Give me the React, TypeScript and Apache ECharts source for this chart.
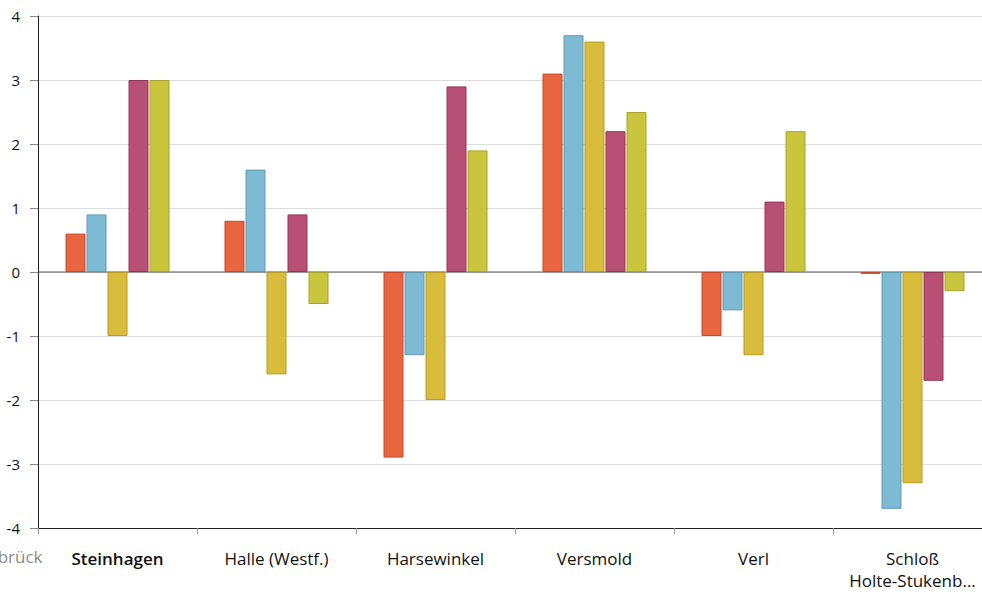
import React, { useEffect, useRef } from "react";
import * as echarts from "echarts";

const categories = ["Steinhagen", "Halle (Westf.)", "Harsewinkel", "Versmold", "Verl", "Schloß\nHolte-Stukenb..."];
const highlighted = "Steinhagen";
const leftCutLabel = "Rheda-Wiedenbrück";
const yTicks = [-4, -3, -2, -1, 0, 1, 2, 3, 4];

const seriesA = [0.6, 0.8, -2.9, 3.1, -1.0, -0.03];
const seriesB = [0.9, 1.6, -1.3, 3.7, -0.6, -3.7];
const seriesC = [-1.0, -1.6, -2.0, 3.6, -1.3, -3.3];
const seriesD = [3.0, 0.9, 2.9, 2.2, 1.1, -1.7];
const seriesE = [3.0, -0.5, 1.9, 2.5, 2.2, -0.3];

const colors = ["#E8653F", "#7EBAD3", "#D9BC3C", "#B85076", "#C9C63E"];
const borders = ["#C9492A", "#5E9CB6", "#B89C25", "#973758", "#A8A52A"];

export default function App() {
  const ref = useRef<HTMLDivElement>(null);
  useEffect(() => {
    if (!ref.current) return;
    const chart = echarts.init(ref.current, null, { renderer: "svg" });
    const data = [seriesA, seriesB, seriesC, seriesD, seriesE];
    chart.setOption({
      animation: false,
      textStyle: { fontFamily: "Open Sans" },
      grid: { left: 38, right: 0, top: 16, bottom: 66 },
      xAxis: {
        type: "category",
        data: categories,
        position: "bottom",
        axisLine: { onZero: false, lineStyle: { color: "#222", width: 1 } },
        axisTick: { show: true, length: 6, lineStyle: { color: "#999" } },
        axisLabel: {
          color: "#111",
          fontSize: 17,
          margin: 19,
          lineHeight: 22,
          interval: 0,
          formatter: (v: string) => (v === highlighted ? "{b|" + v + "}" : v),
          rich: { b: { fontWeight: 600, fontSize: 17, color: "#111", fontFamily: "Open Sans" } },
        },
      },
      yAxis: {
        type: "value",
        min: yTicks[0],
        max: yTicks[yTicks.length - 1],
        interval: 1,
        axisLine: { show: true, lineStyle: { color: "#222" } },
        axisTick: { show: true, length: 8, lineStyle: { color: "#888" } },
        axisLabel: { color: "#111", fontSize: 15, margin: 18 },
        splitLine: { lineStyle: { color: "#dcdcdc", width: 1 } },
      },
      graphic: [
        {
          type: "text",
          left: -118,
          top: 548,
          style: { text: leftCutLabel, fill: "#8a8a8a", font: "17px 'Open Sans'" },
        },
        {
          type: "line",
          shape: { x1: 38, y1: 272, x2: 992, y2: 272 },
          style: { stroke: "#555", lineWidth: 1 },
          z: 1,
        },
      ],
      series: data.map((d, i) => ({
        type: "bar",
        data: d,
        barWidth: 20,
        barGap: "5%",
        itemStyle: { color: colors[i], borderColor: borders[i], borderWidth: 1 },
        z: 3,
      })),
    });
    return () => chart.dispose();
  }, []);
  return (
    <div style={{ position: "absolute", left: 0, top: 0, width: 982, height: 594, overflow: "hidden" }}>
      <div ref={ref} style={{ width: 992, height: 594 }} />
    </div>
  );
}
